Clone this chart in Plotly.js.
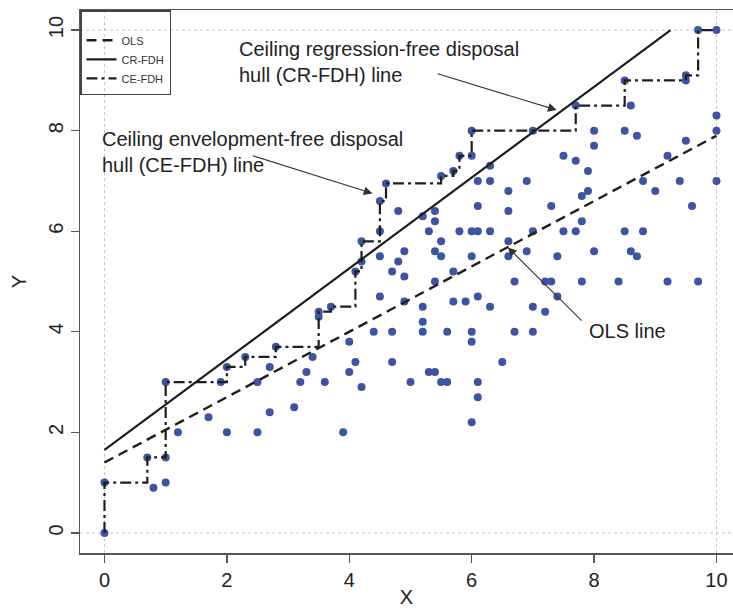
<!DOCTYPE html>
<html><head><meta charset="utf-8">
<script src="https://cdn.plot.ly/plotly-3.0.1.min.js"></script>
<style>html,body{margin:0;padding:0;background:#fff;overflow:hidden}</style>
</head><body><div id="chart" style="width:733px;height:608px"></div>
<script>
// Scatter observations
const pointX = [0,0,0.7,0.8,1,1,1,1.9,2,2.3,2.8,
  1.2,1.7,2,2.5,2.5,2.7,2.7,3.1,3.2,3.3,3.4,3.6,3.5,3.5,3.7,3.9,
  4,4,4.1,4.2,4.1,4.2,4.2,4.4,4.5,4.5,4.5,4.5,4.6,4.7,4.7,4.7,4.8,4.8,4.9,4.9,4.9,
  5,5.2,5.2,5.2,5.2,5.3,5.3,5.4,5.4,5.4,5.4,5.4,5.5,5.5,5.5,5.6,5.6,5.5,5.7,5.7,5.7,5.8,5.8,5.9,
  6,6,6,6,6,6,6,6.1,6.1,6.1,6.1,6.1,6.1,6.3,6.3,6.3,6.3,6.5,6.6,6.6,6.6,6.6,6.7,6.7,6.9,6.9,
  7,7,7,7,7.2,7.2,7.3,7.3,7.4,7.4,7.5,7.5,7.7,7.7,7.7,7.8,7.8,7.8,7.9,7.9,
  8,8,8,8.4,8.5,8.5,8.5,8.6,8.6,8.7,8.7,8.8,8.8,9,9.2,9.2,9.4,9.5,9.5,9.5,9.6,9.7,9.7,10,10,10,10];
const pointY = [0,1,1.5,0.9,1,1.5,3,3,3.3,3.5,3.7,
  2,2.3,2,2,3,2.4,3.3,2.5,3,3.2,3.5,3,4.4,4.3,4.5,2,
  3.8,3.2,3.4,2.9,5.2,5.4,5.8,4,4.7,5.5,6,6.6,6.95,4,3.4,5.2,5.4,6.4,5.6,5.1,4.6,
  3,4.5,4.2,4,6.3,6,3.2,3.2,6.4,6.2,5.6,5,5.8,5.5,3,4,3,7.1,7.2,5.2,4.6,7.5,6,4.6,
  7.5,8,6,5.5,4,3.8,2.2,7,6.5,6,4.7,3,2.7,7.3,7,6,4.5,3.4,6.8,6.4,5.8,5.5,5,4,7,5.6,
  8,6,4.5,4,5,4.4,6.5,5,5.5,4.7,7.5,6,8.5,7.4,6,6.7,6.2,5,7.2,6.8,
  8,7.7,5.6,5,9,8,6,8.5,5.6,7.9,5.5,7,6,6.8,7.5,5,7,9,9.1,7.8,6.5,10,5,10,8.3,8,7];
// OLS line
const olsX = [0, 10];
const olsY = [1.4, 7.9];
// CR-FDH ceiling line
const crX = [0, 9.25];
const crY = [1.65, 10];
// CE-FDH step frontier (peer points)
const ceX = [0,0,0.7,1,2,2.3,2.8,3.5,3.7,4.1,4.2,4.5,4.6,5.5,5.7,5.8,6,7.7,8.5,9.5,9.7,10];
const ceY = [0,1,1.5,3,3.3,3.5,3.7,4.4,4.5,5.2,5.8,6.6,6.95,7.1,7.2,7.5,8,8.5,9,9.1,10,10];
const tickVals = [0,2,4,6,8,10];
const seriesNames = ['OLS','CR-FDH','CE-FDH'];

const lineColor = '#1e1e1e';
const traces = [
  {x: pointX, y: pointY, type:'scatter', mode:'markers', showlegend:false, hoverinfo:'skip',
   marker:{color:'#3b55a3', size:8}},
  {x: olsX, y: olsY, type:'scatter', mode:'lines', name: seriesNames[0],
   line:{color:lineColor, width:2.4, dash:'10px,6px'}},
  {x: crX, y: crY, type:'scatter', mode:'lines', name: seriesNames[1],
   line:{color:lineColor, width:2.2}},
  {x: ceX, y: ceY, type:'scatter', mode:'lines', name: seriesNames[2],
   line:{color:lineColor, width:2.2, shape:'hv', dash:'11px,4px,3px,4px'}}
];

const gridStyle = {color:'#c4c4c4', width:1, dash:'3px,3px'};
const fontFam = 'Liberation Sans Narrow, Liberation Sans, Arial, sans-serif';
const annFont = {family:'Liberation Sans, Arial, sans-serif', size:20, color:'#222'};
const arrow = {showarrow:true, text:'', axref:'x', ayref:'y', arrowhead:2, arrowsize:1.6,
  arrowwidth:1.1, arrowcolor:'#333'};

const layout = {
  width:733, height:608,
  margin:{l:80, r:0, t:10, b:55},
  paper_bgcolor:'#fff', plot_bgcolor:'#fff',
  showlegend:true,
  legend:{x:0, y:1, xanchor:'left', yanchor:'top', bgcolor:'rgba(0,0,0,0)',
    bordercolor:'#444', borderwidth:1.5, font:{family:'Liberation Sans, Arial', size:11, color:'#333'},
    title:{text:' ', font:{size:11}},
    tracegroupgap:0, itemwidth:30},
  xaxis:{range:[-0.4,10.27], tickvals:tickVals, showgrid:false, zeroline:false,
    showline:true, linecolor:'#555', linewidth:1.5, mirror:true,
    ticks:'outside', ticklen:8, tickcolor:'#555', tickwidth:1.3,
    tickfont:{family:fontFam, size:20, color:'#222'},
    title:{text:'X', font:{family:'Liberation Sans, Arial', size:20, color:'#222'}, standoff:2}},
  yaxis:{range:[-0.4,10.4], tickvals:tickVals, showgrid:false, zeroline:false,
    showline:true, linecolor:'#555', linewidth:1.5,
    ticks:'outside', ticklen:8, tickcolor:'#555', tickwidth:1.3, tickangle:-90,
    tickfont:{family:fontFam, size:20, color:'#222'},
    title:{text:'Y', font:{family:'Liberation Sans, Arial', size:20, color:'#222'}, standoff:12}},
  shapes:[
    {type:'line', xref:'x', yref:'paper', x0:0, x1:0, y0:0, y1:1, line:gridStyle, layer:'below'},
    {type:'line', xref:'x', yref:'paper', x0:10, x1:10, y0:0, y1:1, line:gridStyle, layer:'below'},
    {type:'line', xref:'paper', yref:'y', x0:0, x1:1, y0:0, y1:0, line:gridStyle, layer:'below'},
    {type:'line', xref:'paper', yref:'y', x0:0, x1:1, y0:10, y1:10, line:gridStyle, layer:'below'}
  ],
  annotations:[
    {x:2.17, y:9.88, xref:'x', yref:'y', xanchor:'left', yanchor:'top', align:'left', showarrow:false,
     text:'Ceiling regression-free disposal<br>hull (CR-FDH) line', font:annFont},
    {x:-0.07, y:8.1, xref:'x', yref:'y', xanchor:'left', yanchor:'top', align:'left', showarrow:false,
     text:'Ceiling envelopment-free disposal<br>hull (CE-FDH) line', font:annFont},
    {x:7.88, y:4.02, xref:'x', yref:'y', xanchor:'left', yanchor:'middle', align:'left', showarrow:false,
     text:'OLS line', font:annFont},
    Object.assign({x:7.39, y:8.41, ax:5.42, ay:9.14, xref:'x', yref:'y'}, arrow),
    Object.assign({x:4.38, y:6.75, ax:2.4, ay:7.51, xref:'x', yref:'y'}, arrow),
    Object.assign({x:6.59, y:5.68, ax:7.82, ay:4.19, xref:'x', yref:'y'}, arrow)
  ]
};

Plotly.newPlot('chart', traces, layout, {staticPlot:true, displayModeBar:false});
</script></body></html>
